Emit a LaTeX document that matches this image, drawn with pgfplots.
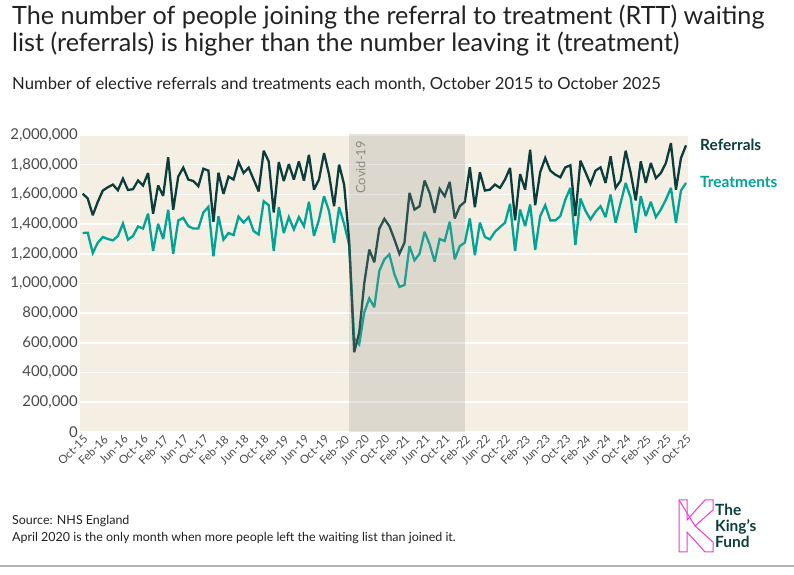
\documentclass[border=0pt]{standalone}
\usepackage{pgfplots}
\pgfplotsset{compat=1.18}
\usepackage{pgfplotstable}
\usepackage{fontspec}
\setmainfont{Lato}
\definecolor{refc}{HTML}{0A3D3B}
\definecolor{trtc}{HTML}{00A396}
\definecolor{beige}{HTML}{F4EEE3}
\definecolor{tickc}{HTML}{4A4A4A}
\definecolor{titlec}{HTML}{222222}
\definecolor{covidc}{RGB}{144,150,140}
\definecolor{covidtext}{HTML}{8C8C84}
\definecolor{pinkc}{HTML}{F33BD3}
\definecolor{linec}{HTML}{B0B4BB}

\pgfplotstableread{
i ref trt
0 1605000 1340000
1 1572000 1342000
2 1460000 1205000
3 1550000 1275000
4 1626000 1313000
5 1648000 1300000
6 1666000 1290000
7 1628000 1320000
8 1706000 1404000
9 1630000 1295000
10 1635000 1320000
11 1693000 1384000
12 1660000 1370000
13 1744000 1470000
14 1470000 1219000
15 1660000 1402000
16 1590000 1300000
17 1850000 1496000
18 1496000 1200000
19 1720000 1424000
20 1780000 1442000
21 1700000 1386000
22 1690000 1370000
23 1655000 1370000
24 1773000 1478000
25 1760000 1516000
26 1415000 1183000
27 1746000 1453000
28 1603000 1295000
29 1720000 1340000
30 1700000 1326000
31 1818000 1451000
32 1744000 1410000
33 1780000 1447000
34 1700000 1353000
35 1620000 1330000
36 1894000 1554000
37 1822000 1527000
38 1478000 1219000
39 1818000 1514000
40 1690000 1340000
41 1804000 1447000
42 1700000 1364000
43 1822000 1447000
44 1693000 1386000
45 1867000 1550000
46 1632000 1320000
47 1700000 1430000
48 1878000 1588000
49 1733000 1487000
50 1520000 1275000
51 1800000 1514000
52 1666000 1400000
53 1290000 1260000
54 537000 630000
55 670000 590000
56 1000000 805000
57 1228000 900000
58 1143000 840000
59 1370000 1085000
60 1435000 1163000
61 1386000 1196000
62 1297000 1062000
63 1200000 977000
64 1275000 990000
65 1610000 1252000
66 1498000 1156000
67 1520000 1200000
68 1693000 1348000
69 1610000 1264000
70 1476000 1147000
71 1637000 1300000
72 1588000 1286000
73 1684000 1416000
74 1438000 1163000
75 1520000 1252000
76 1550000 1275000
77 1782000 1438000
78 1514000 1190000
79 1749000 1410000
80 1626000 1313000
81 1632000 1297000
82 1666000 1348000
83 1644000 1380000
84 1700000 1409000
85 1778000 1536000
86 1425000 1219000
87 1737000 1498000
88 1632000 1386000
89 1900000 1532000
90 1527000 1226000
91 1750000 1454000
92 1845000 1527000
93 1760000 1425000
94 1733000 1425000
95 1715000 1454000
96 1782000 1565000
97 1796000 1644000
98 1454000 1259000
99 1827000 1572000
100 1750000 1490000
101 1670000 1431000
102 1760000 1483000
103 1782000 1520000
104 1677000 1447000
105 1856000 1598000
106 1644000 1409000
107 1693000 1543000
108 1894000 1677000
109 1744000 1576000
110 1559000 1342000
111 1822000 1588000
112 1677000 1454000
113 1811000 1550000
114 1710000 1447000
115 1744000 1498000
116 1811000 1565000
117 1945000 1644000
118 1632000 1409000
119 1845000 1626000
120 1930000 1677000
}\datatable

\begin{document}
\begin{tikzpicture}[x=1bp,y=1bp]
\useasboundingbox (0,0) rectangle (794,575);
\fill[white] (0,0) rectangle (794,575);
% titles
\node[anchor=base west, inner sep=0, text=titlec, font=\fontsize{25.3}{28}\selectfont] at (12,575-25) {The number of people joining the referral to treatment (RTT) waiting};
\node[anchor=base west, inner sep=0, text=titlec, font=\fontsize{25.3}{28}\selectfont] at (12,575-52) {list (referrals) is higher than the number leaving it (treatment)};
\node[anchor=base west, inner sep=0, text=titlec, font=\fontsize{16.7}{20}\selectfont] at (12,575-90) {Number of elective referrals and treatments each month, October 2015 to October 2025};

\begin{axis}[
  at={(80bp,143bp)}, anchor=south west,
  scale only axis, width=608bp, height=297bp,
  xmin=-0.54, xmax=120.4, ymin=0, ymax=2000000,
  axis line style={draw=none},
  major tick length=0pt,
  axis background/.style={fill=beige},
  ymajorgrids, grid style={white, line width=1.6bp},
  scaled y ticks=false,
  ytick={0,200000,400000,600000,800000,1000000,1200000,1400000,1600000,1800000,2000000},
  yticklabel style={font=\fontsize{15}{15}\selectfont, text=tickc, inner sep=2bp,
    /pgf/number format/fixed, /pgf/number format/precision=0,
    /pgf/number format/1000 sep={,}, /pgf/number format/assume math mode=true},
  xtick={0,4,...,120},
  xticklabels={Oct-15,Feb-16,Jun-16,Oct-16,Feb-17,Jun-17,Oct-17,Feb-18,Jun-18,Oct-18,Feb-19,Jun-19,Oct-19,Feb-20,Jun-20,Oct-20,Feb-21,Jun-21,Oct-21,Feb-22,Jun-22,Oct-22,Feb-23,Jun-23,Oct-23,Feb-24,Jun-24,Oct-24,Feb-25,Jun-25,Oct-25},
  xticklabel style={rotate=45, anchor=north east, font=\fontsize{11.5}{11.5}\selectfont, text=tickc, inner sep=1.5bp},
]
\addplot[trtc, line width=2.3bp, line join=miter, miter limit=3, mark=none] table[x=i,y=trt]{\datatable};
\addplot[refc, line width=2.3bp, line join=miter, miter limit=3, mark=none] table[x=i,y=ref]{\datatable};
\fill[covidc, opacity=0.24] (axis cs:53,0) rectangle (axis cs:76,2010000);
\node[rotate=90, anchor=east, text=covidtext, font=\fontsize{13}{13}\selectfont, inner sep=0] at (axis cs:55.3,1960000) {Covid-19};
\end{axis}

% legend labels
\node[anchor=west, inner sep=0, text=refc, font=\bfseries\fontsize{15.5}{15.5}\selectfont] at (700,575-145) {Referrals};
\node[anchor=west, inner sep=0, text=trtc, font=\bfseries\fontsize{15.5}{15.5}\selectfont] at (700,575-182) {Treatments};

% footer
\node[anchor=base west, inner sep=0, text=titlec, font=\fontsize{12.5}{15}\selectfont] at (12,575-525) {Source: NHS England};
\node[anchor=base west, inner sep=0, text=titlec, font=\fontsize{12.5}{15}\selectfont] at (12,575-542) {April 2020 is the only month when more people left the waiting list than joined it.};

% logo
\begin{scope}[shift={(679,575-500)}, yscale=-1]
\draw[pinkc, line width=1bp, line join=miter]
  (0,0) -- (8,0) -- (8,20) -- (26,0) -- (34,0) -- (34,10) -- (16,26) -- (34,42) -- (34,52) -- (26,52) -- (8,32) -- (8,52) -- (0,52) -- cycle;
\draw[pinkc, line width=1bp] (0,0) -- (16,26);
\end{scope}
\node[anchor=north west, inner sep=0, align=left, text=refc, font=\bfseries\fontsize{15.5}{16}\selectfont] at (715,575-504) {The\\King's\\Fund};

\draw[linec, line width=1.5bp] (0,575-566) -- (794,575-566);
\end{tikzpicture}
\end{document}
